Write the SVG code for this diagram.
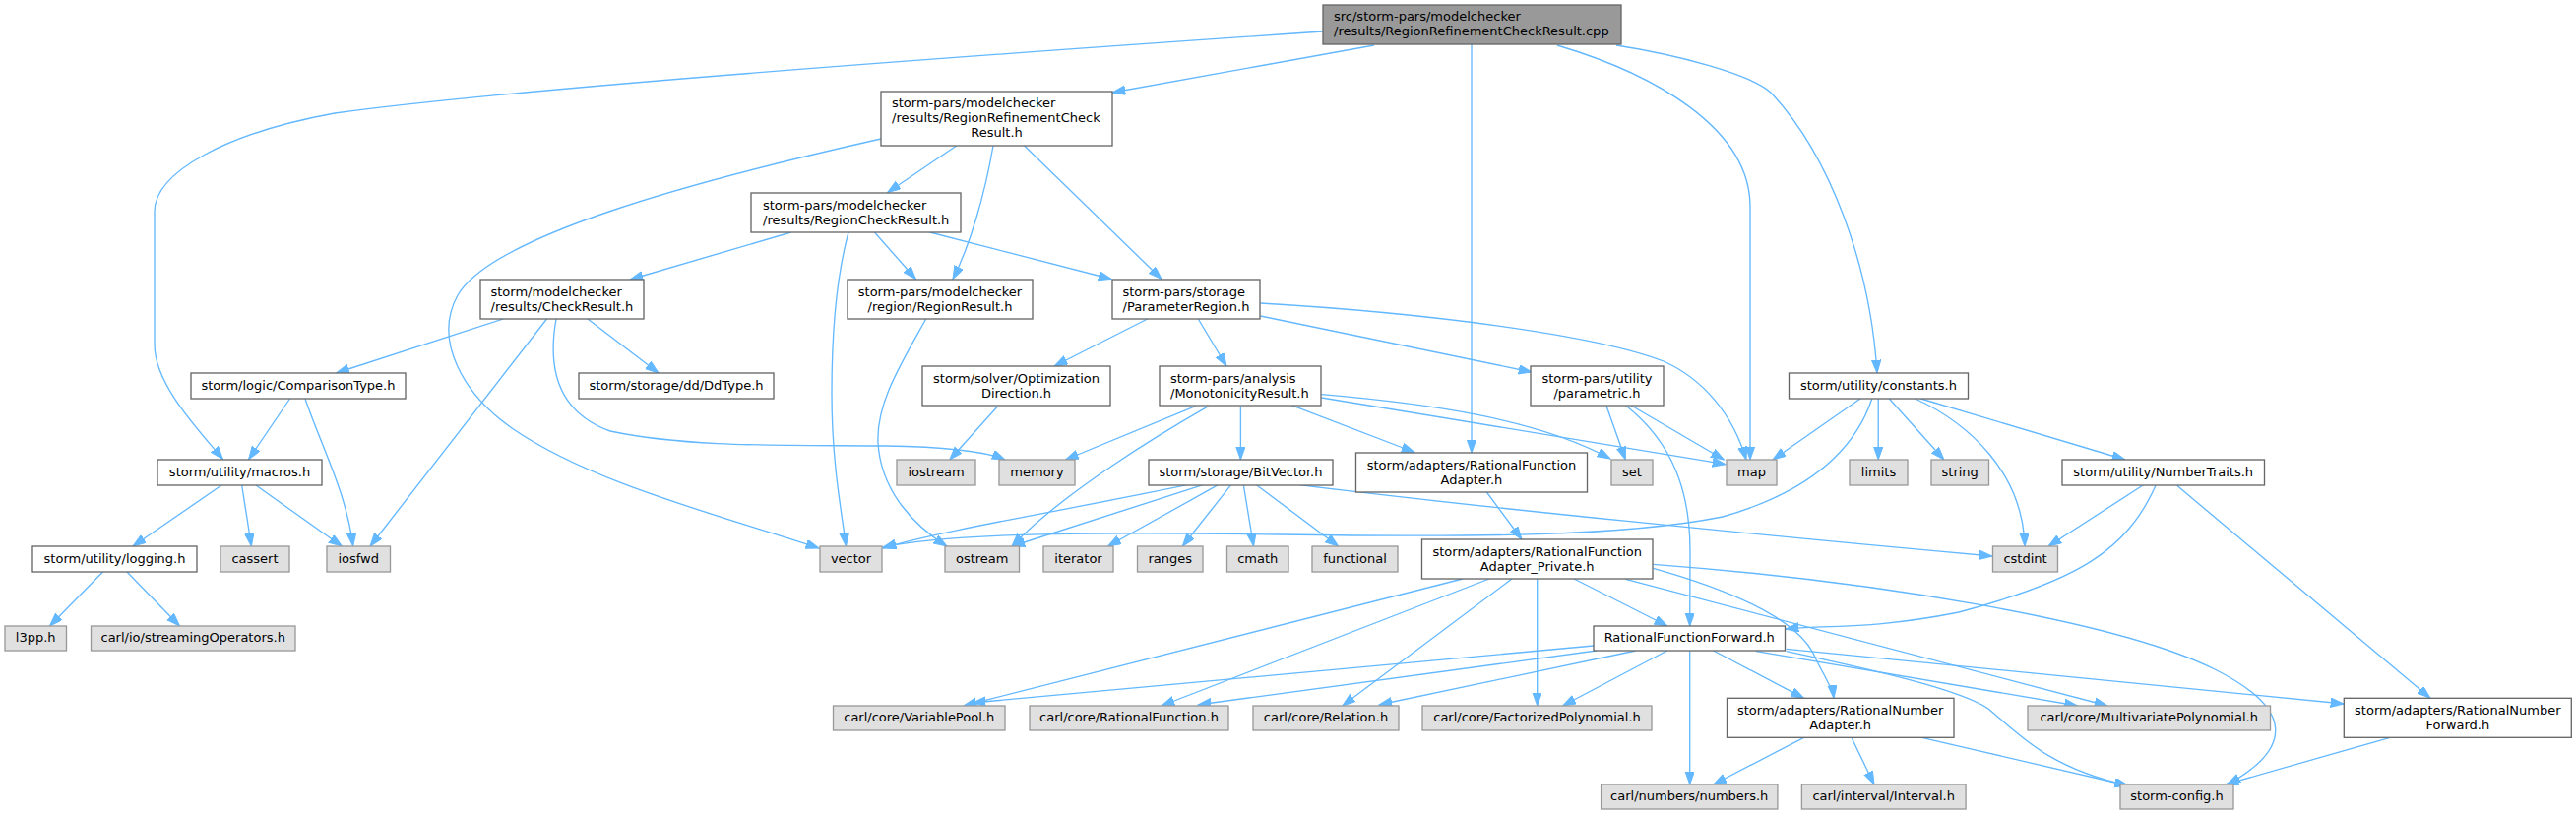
<svg xmlns="http://www.w3.org/2000/svg" width="2617" height="828" viewBox="0 0 2617 828">
<style>
text{font-family:"DejaVu Sans","Liberation Sans",sans-serif;font-size:13px;fill:#000}
.m{text-anchor:middle}
.s{text-anchor:start}
.w rect{fill:#fff;stroke:#666;stroke-width:1.33}
.g rect{fill:#e0e0e0;stroke:#999;stroke-width:1.33}
.r rect{fill:#999;stroke:#666;stroke-width:1.33}
#edges path{fill:none;stroke:#63b8ff;stroke-width:1.33;marker-end:url(#a)}
</style>
<defs>
<marker id="a" markerUnits="userSpaceOnUse" markerWidth="15" markerHeight="11" refX="13.3" refY="4.7" orient="auto">
<path d="M0,0 L13.3,4.7 L0,9.4 Z" fill="#63b8ff" stroke="#63b8ff" stroke-width="1"/>
</marker>
</defs>
<rect width="2617" height="828" fill="#fff"/>
<g id="edges">
<path d="M1344,32 C1050,52 520,90 340,115 C230,135 157,175 157,215 L157,350 C157,390 200,435 226.5,466.5"/>
<path d="M1396,46 L1130,94"/>
<path d="M1495,45 L1495,460"/>
<path d="M1582,46 C1680,75 1778,130 1778,210 L1778,467"/>
<path d="M1642,46 C1700,55 1780,75 1800,95 C1860,160 1900,270 1907,379"/>
<path d="M895,141 C700,185 500,240 465,300 C440,345 470,400 520,435 C600,490 720,520 832,557"/>
<path d="M971.7,148 L901.7,195.5"/>
<path d="M1009,148 C1000,200 985,250 968,283.5"/>
<path d="M1040.6,148 L1180,283.5"/>
<path d="M803.6,236 L640,284"/>
<path d="M862,236 C850,280 845,330 845,400 C845,470 855,520 859.5,555"/>
<path d="M888.5,236 L930.4,283.5"/>
<path d="M944.7,236 L1129,283.5"/>
<path d="M511,324 L341.5,379"/>
<path d="M555.5,324 L376,555"/>
<path d="M565,324 C555,380 570,420 620,438 C700,455 800,452 900,453 C960,454 1000,458 1021,467"/>
<path d="M597,324 L669,379"/>
<path d="M294.5,405 L252.6,466.7"/>
<path d="M310,405 C325,450 352,500 358.7,555"/>
<path d="M225,493 L135,555"/>
<path d="M245.7,493 L255.4,555"/>
<path d="M260,493 L347.3,555"/>
<path d="M104.5,581 L50.5,636"/>
<path d="M129,581 L182.5,636"/>
<path d="M940.7,324 C915,370 890,410 892,450 C895,500 930,535 962,555"/>
<path d="M1165.7,324 L1071,372"/>
<path d="M1217.3,324 L1246,372"/>
<path d="M1280.5,321 L1556,378"/>
<path d="M1280.5,308 C1450,318 1620,340 1690,367 C1730,385 1760,420 1774,467"/>
<path d="M1013.6,412.7 L964.8,467"/>
<path d="M1214.5,412.7 L1082.5,467"/>
<path d="M1227.7,412.7 C1180,440 1080,500 1028,555"/>
<path d="M1260.4,412.7 L1260.4,467"/>
<path d="M1312,411.7 L1437,459.5"/>
<path d="M1342.5,400.7 C1450,410 1560,425 1636,466"/>
<path d="M1342.5,404 L1753,471.7"/>
<path d="M1631.8,411.7 L1651.4,467"/>
<path d="M1656.8,411.7 L1751.4,467"/>
<path d="M1651.4,411.7 C1700,450 1717,500 1717,560 L1716.7,636"/>
<path d="M1510.4,500 L1546,548"/>
<path d="M1890,405 L1801,467"/>
<path d="M1901.8,405 C1880,470 1820,505 1750,525 C1650,545 1500,546 1300,543 C1100,540 960,542 897,556"/>
<path d="M1908.2,405 L1908.2,467"/>
<path d="M1919.3,405 L1974.9,467"/>
<path d="M1945.6,405 C2000,430 2055,480 2057,555"/>
<path d="M1951.5,405 L2159,467"/>
<path d="M1205.9,492.7 C1100,515 950,540 897,557"/>
<path d="M1222,492.7 L1028,555"/>
<path d="M1237.4,492.7 L1125.5,555"/>
<path d="M1250.6,492.7 L1201.3,555"/>
<path d="M1263.3,492.7 L1273.6,555"/>
<path d="M1276.5,492.7 L1359.7,555"/>
<path d="M1320,492.7 C1500,515 1800,545 2024,565"/>
<path d="M2176.6,493.3 L2081,555"/>
<path d="M2190,493.3 C2160,560 2110,590 1990,622 C1900,640 1850,635 1814,639"/>
<path d="M2211.7,493.3 L2469,709.3"/>
<path d="M1486,588 L979,717"/>
<path d="M1513,588 L1180,717"/>
<path d="M1536,588 L1363.7,717"/>
<path d="M1561.7,588 L1561.7,717"/>
<path d="M1599,588 L1694,636"/>
<path d="M1679.5,577.3 C1760,600 1830,630 1845,670 C1855,690 1862,700 1863,709.3"/>
<path d="M1651.4,588.3 L2141,717"/>
<path d="M1679.5,573.3 C1900,590 2150,630 2250,680 C2330,720 2330,760 2263,797"/>
<path d="M1619,656 L988,714"/>
<path d="M1622,661 L1217,716"/>
<path d="M1662,661 L1401,716"/>
<path d="M1693.8,661 L1587.6,717"/>
<path d="M1716.7,661 L1716.7,797"/>
<path d="M1740.7,661 L1832.6,709.3"/>
<path d="M1784,661.7 L2110.6,717"/>
<path d="M1814.7,661.7 C1900,680 1990,700 2020,720 C2050,745 2080,780 2161.6,798"/>
<path d="M1814.7,659.3 L2381,715"/>
<path d="M1832.6,749.3 L1740.7,797"/>
<path d="M1881,749.3 L1904,797"/>
<path d="M1952.4,749.3 L2161.6,798"/>
<path d="M2428,749.3 L2261,797"/>
</g>
<g id="root" class="r"><rect x="1344" y="5" width="303" height="40"/><text class="s" x="1355" y="21">src/storm-pars/modelchecker</text><text class="s" x="1355" y="36">/results/RegionRefinementCheckResult.cpp</text></g>
<g id="rrcr" class="w"><rect x="895" y="93" width="235" height="55"/><text class="s" x="906" y="109">storm-pars/modelchecker</text><text class="s" x="906" y="124">/results/RegionRefinementCheck</text><text class="m" x="1012.5" y="139">Result.h</text></g>
<g id="rcr" class="w"><rect x="763" y="196" width="213" height="40"/><text class="s" x="775" y="212.5">storm-pars/modelchecker</text><text class="s" x="775" y="227.5">/results/RegionCheckResult.h</text></g>
<g id="cr" class="w"><rect x="488" y="284" width="166" height="40"/><text class="s" x="498.5" y="300.5">storm/modelchecker</text><text class="s" x="498.5" y="315.5">/results/CheckResult.h</text></g>
<g id="rr" class="w"><rect x="861" y="284" width="188" height="40"/><text class="m" x="955" y="300.5">storm-pars/modelchecker</text><text class="m" x="955" y="315.5">/region/RegionResult.h</text></g>
<g id="pr" class="w"><rect x="1130" y="284" width="150" height="40"/><text class="s" x="1140.5" y="300.5">storm-pars/storage</text><text class="s" x="1140.5" y="315.5">/ParameterRegion.h</text></g>
<g id="ct" class="w"><rect x="194" y="379" width="218" height="26"/><text class="m" x="303" y="395.5">storm/logic/ComparisonType.h</text></g>
<g id="dd" class="w"><rect x="588" y="379" width="198" height="26"/><text class="m" x="687" y="395.5">storm/storage/dd/DdType.h</text></g>
<g id="od" class="w"><rect x="937" y="372" width="191" height="40"/><text class="m" x="1032.5" y="388.5">storm/solver/Optimization</text><text class="m" x="1032.5" y="403.5">Direction.h</text></g>
<g id="mr" class="w"><rect x="1178" y="372" width="164" height="40"/><text class="s" x="1189" y="388.5">storm-pars/analysis</text><text class="s" x="1189" y="403.5">/MonotonicityResult.h</text></g>
<g id="pa" class="w"><rect x="1555" y="372" width="135" height="40"/><text class="m" x="1622.5" y="388.5">storm-pars/utility</text><text class="m" x="1622.5" y="403.5">/parametric.h</text></g>
<g id="co" class="w"><rect x="1817.5" y="379" width="182" height="26"/><text class="m" x="1908.5" y="395.5">storm/utility/constants.h</text></g>
<g id="ma" class="w"><rect x="160" y="467" width="167" height="26"/><text class="m" x="243.5" y="483.5">storm/utility/macros.h</text></g>
<g id="ios" class="g"><rect x="911" y="467" width="80" height="26"/><text class="m" x="951" y="483.5">iostream</text></g>
<g id="mem" class="g"><rect x="1015" y="467" width="77" height="26"/><text class="m" x="1053.5" y="483.5">memory</text></g>
<g id="bv" class="w"><rect x="1167" y="467" width="187" height="26"/><text class="m" x="1260.5" y="483.5">storm/storage/BitVector.h</text></g>
<g id="rfa" class="w"><rect x="1377.5" y="460" width="235" height="40"/><text class="m" x="1495" y="476.5">storm/adapters/RationalFunction</text><text class="m" x="1495" y="491.5">Adapter.h</text></g>
<g id="set" class="g"><rect x="1637" y="467" width="42" height="26"/><text class="m" x="1658" y="483.5">set</text></g>
<g id="map" class="g"><rect x="1754" y="467" width="51" height="26"/><text class="m" x="1779.5" y="483.5">map</text></g>
<g id="lim" class="g"><rect x="1879" y="467" width="59" height="26"/><text class="m" x="1908.5" y="483.5">limits</text></g>
<g id="str" class="g"><rect x="1962" y="467" width="58.5" height="26"/><text class="m" x="1991.2" y="483.5">string</text></g>
<g id="nt" class="w"><rect x="2095" y="467" width="205.5" height="26"/><text class="m" x="2197.7" y="483.5">storm/utility/NumberTraits.h</text></g>
<g id="log" class="w"><rect x="33" y="555" width="167" height="26"/><text class="m" x="116.5" y="571.5">storm/utility/logging.h</text></g>
<g id="cas" class="g"><rect x="224" y="555" width="70" height="26"/><text class="m" x="259" y="571.5">cassert</text></g>
<g id="iosf" class="g"><rect x="332" y="555" width="64.5" height="26"/><text class="m" x="364.2" y="571.5">iosfwd</text></g>
<g id="vec" class="g"><rect x="833" y="555" width="63" height="26"/><text class="m" x="864.5" y="571.5">vector</text></g>
<g id="ost" class="g"><rect x="960" y="555" width="75.5" height="26"/><text class="m" x="997.7" y="571.5">ostream</text></g>
<g id="itr" class="g"><rect x="1060" y="555" width="71" height="26"/><text class="m" x="1095.5" y="571.5">iterator</text></g>
<g id="rng" class="g"><rect x="1155.5" y="555" width="66.5" height="26"/><text class="m" x="1188.7" y="571.5">ranges</text></g>
<g id="cm" class="g"><rect x="1246.5" y="555" width="62.5" height="26"/><text class="m" x="1277.7" y="571.5">cmath</text></g>
<g id="fn" class="g"><rect x="1333" y="555" width="87" height="26"/><text class="m" x="1376.5" y="571.5">functional</text></g>
<g id="prv" class="w"><rect x="1444.5" y="548" width="234.5" height="40"/><text class="m" x="1561.7" y="564.5">storm/adapters/RationalFunction</text><text class="m" x="1561.7" y="579.5">Adapter_Private.h</text></g>
<g id="csi" class="g"><rect x="2024.5" y="555" width="66" height="26"/><text class="m" x="2057.5" y="571.5">cstdint</text></g>
<g id="l3" class="g"><rect x="5" y="636" width="62.5" height="25"/><text class="m" x="36.2" y="652">l3pp.h</text></g>
<g id="so" class="g"><rect x="92.5" y="636" width="207.5" height="25"/><text class="m" x="196.2" y="652">carl/io/streamingOperators.h</text></g>
<g id="rff" class="w"><rect x="1619" y="636" width="194.5" height="25"/><text class="m" x="1716.2" y="652">RationalFunctionForward.h</text></g>
<g id="vp" class="g"><rect x="846.5" y="717" width="174.5" height="25"/><text class="m" x="933.7" y="733">carl/core/VariablePool.h</text></g>
<g id="rf" class="g"><rect x="1046" y="717" width="202" height="25"/><text class="m" x="1147" y="733">carl/core/RationalFunction.h</text></g>
<g id="rel" class="g"><rect x="1273" y="717" width="148" height="25"/><text class="m" x="1347" y="733">carl/core/Relation.h</text></g>
<g id="fp" class="g"><rect x="1445" y="717" width="233" height="25"/><text class="m" x="1561.5" y="733">carl/core/FactorizedPolynomial.h</text></g>
<g id="rna" class="w"><rect x="1754.5" y="709.3" width="230.5" height="40"/><text class="m" x="1869.7" y="725.8">storm/adapters/RationalNumber</text><text class="m" x="1869.7" y="740.8">Adapter.h</text></g>
<g id="mp" class="g"><rect x="2060" y="717" width="246.5" height="25"/><text class="m" x="2183.2" y="733">carl/core/MultivariatePolynomial.h</text></g>
<g id="rnf" class="w"><rect x="2381.3" y="709.3" width="231" height="40"/><text class="m" x="2496.8" y="725.8">storm/adapters/RationalNumber</text><text class="m" x="2496.8" y="740.8">Forward.h</text></g>
<g id="num" class="g"><rect x="1626.6" y="797" width="179.3" height="25"/><text class="m" x="1716.2" y="813">carl/numbers/numbers.h</text></g>
<g id="int" class="g"><rect x="1830.4" y="797" width="166.7" height="25"/><text class="m" x="1913.7" y="813">carl/interval/Interval.h</text></g>
<g id="sc" class="g"><rect x="2154" y="797" width="115" height="25"/><text class="m" x="2211.5" y="813">storm-config.h</text></g>
</svg>
